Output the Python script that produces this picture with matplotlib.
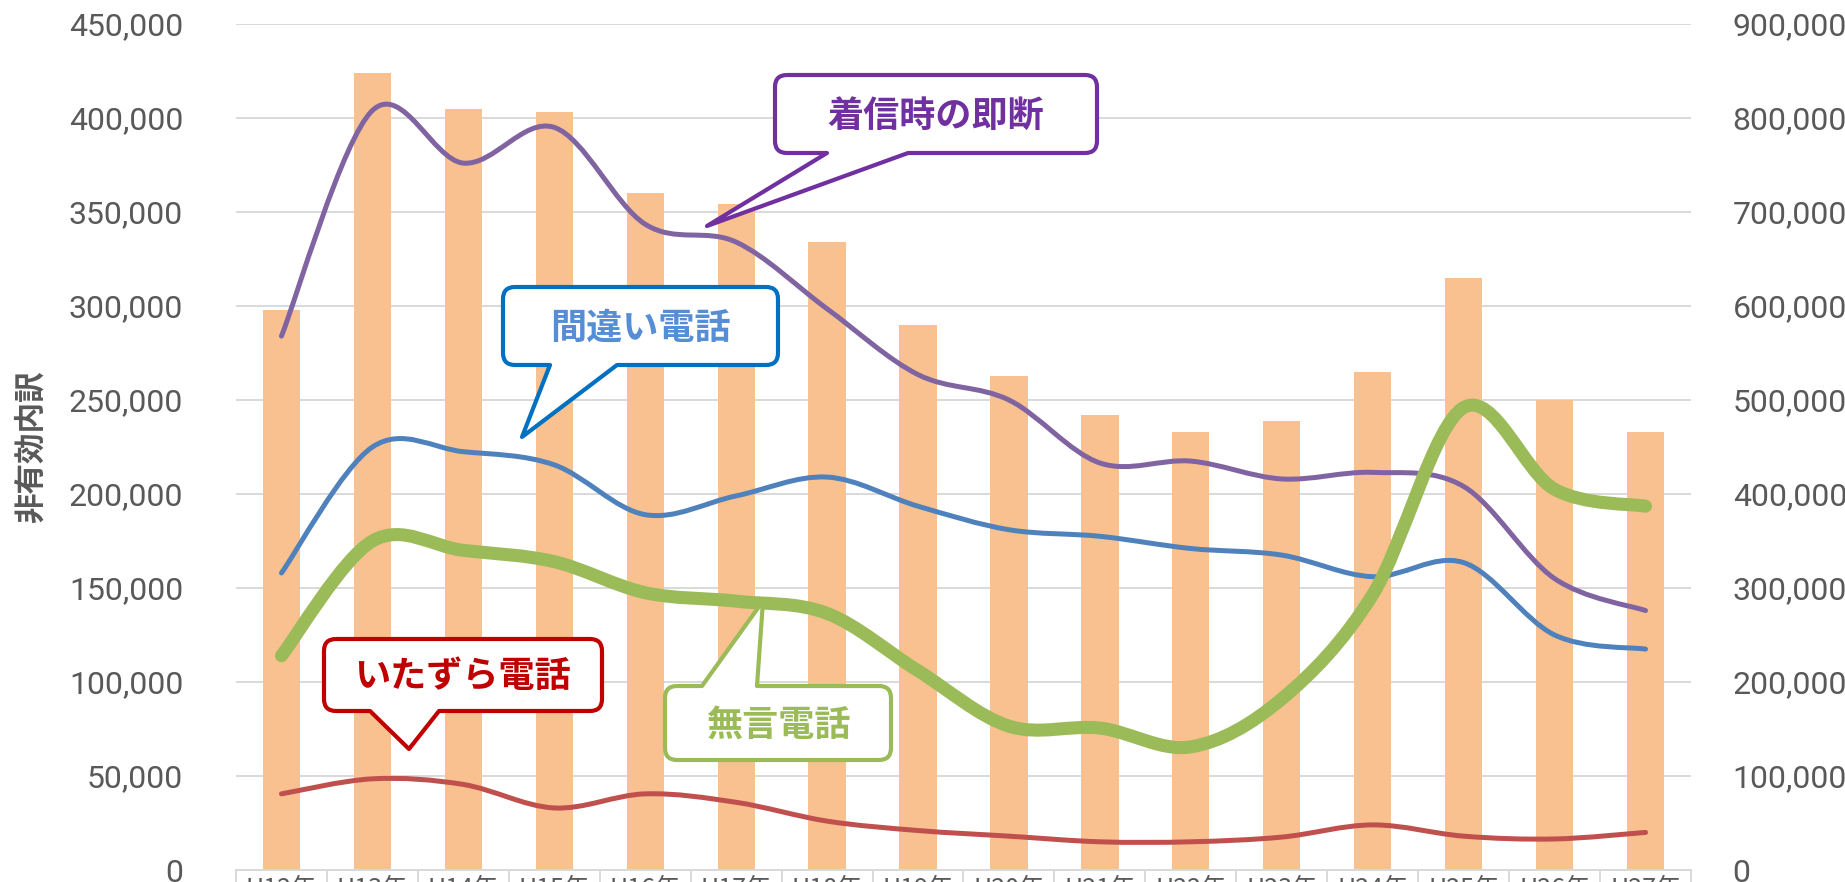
import numpy as np
import matplotlib
matplotlib.use('Agg')
import matplotlib.pyplot as plt
from matplotlib.path import Path
from matplotlib.patches import PathPatch
from matplotlib.transforms import Affine2D
from matplotlib import font_manager

# data
years = ['H12年', 'H13年', 'H14年', 'H15年', 'H16年', 'H17年', 'H18年', 'H19年',
         'H20年', 'H21年', 'H22年', 'H23年', 'H24年', 'H25年', 'H26年', 'H27年']
total = [298000, 424000, 405000, 403000, 360000, 354000, 334000, 290000,
         263000, 242000, 233000, 239000, 265000, 315000, 250000, 233000]
sokudan = [568000, 808000, 752000, 790000, 687000, 668000, 597000, 527000,
           500000, 433000, 435000, 416000, 423000, 408000, 310000, 276000]
machigai = [316000, 450000, 445000, 431000, 378000, 398000, 418000, 387000,
            362000, 355000, 342000, 335000, 312000, 327000, 250000, 235000]
mugon = [228000, 350000, 340000, 328000, 295000, 286000, 273000, 212000,
         153000, 151000, 131000, 182000, 293000, 492000, 405000, 387000]
itazura = [81000, 97000, 91000, 66000, 81000, 72000, 52000, 42000,
           36000, 30000, 30000, 35000, 48000, 36000, 33000, 40000]

names = {f.name for f in font_manager.fontManager.ttflist}
num_font = 'Liberation Sans Narrow' if 'Liberation Sans Narrow' in names else 'Roboto'
jp_font = 'Noto Sans CJK JP'
plt.rcParams['font.family'] = [num_font, jp_font, 'DejaVu Sans']

W, H = 1845, 882
fig = plt.figure(figsize=(W / 100, H / 100), dpi=100)
ax = fig.add_axes([236 / W, 12 / H, (1691 - 236) / W, (870 - 24) / H])
ax2 = ax.twinx()

x = np.arange(len(years))
grey = '#595959'
gridc = '#D9D9D9'

ax.bar(x, total, width=0.41, color='#F9C18F', zorder=2)
ax.set_xlim(-0.5, len(years) - 0.5)
ax.set_ylim(0, 450000)
ax2.set_ylim(0, 900000)
ax.set_yticks(np.arange(0, 450001, 50000))
ax2.set_yticks(np.arange(0, 900001, 100000))
ax.set_yticklabels(['{:,}'.format(v) for v in range(0, 450001, 50000)])
ax2.set_yticklabels(['{:,}'.format(v) for v in range(0, 900001, 100000)])
ax.grid(axis='y', color=gridc, lw=1.4)
ax.set_axisbelow(True)

for a in (ax, ax2):
    for s in ('top', 'left', 'right'):
        a.spines[s].set_visible(False)
    a.spines['bottom'].set_color(gridc)
    a.spines['bottom'].set_linewidth(1.4)
    a.tick_params(axis='y', length=0, labelsize=23, labelcolor=grey)
ax.tick_params(axis='y', pad=38)
ax2.tick_params(axis='y', pad=30)

ax.set_xticks(x)
ax.set_xticklabels(years, family=[jp_font, 'DejaVu Sans'])
ax.set_xticks(np.arange(-0.5, len(years)), minor=True)
ax.tick_params(axis='x', which='major', length=0, labelsize=18, labelcolor=grey, pad=4)
ax.tick_params(axis='x', which='minor', length=25, color=gridc, width=1.4)

ax.set_ylabel('非有効内訳', family=[jp_font, 'DejaVu Sans'], fontsize=22,
              fontweight='bold', color=grey, labelpad=16)


def smooth(xs, ys):
    # Catmull-Rom style bezier through the points, like Excel's smoothed line
    p = np.column_stack([xs, ys]).astype(float)
    q = np.vstack([p[0], p, p[-1]])
    verts = [p[0]]
    codes = [Path.MOVETO]
    for i in range(len(p) - 1):
        c1 = q[i + 1] + (q[i + 2] - q[i]) / 6
        c2 = q[i + 2] - (q[i + 3] - q[i + 1]) / 6
        verts += [c1, c2, q[i + 2]]
        codes += [Path.CURVE4] * 3
    return Path(verts, codes)


series = [
    (itazura, '#C0504D', 3.6),
    (machigai, '#4F81BD', 3.6),
    (sokudan, '#8064A2', 3.6),
    (mugon, '#9BBB59', 9.4),
]
for vals, col, lw in series:
    ax2.add_patch(PathPatch(smooth(x, vals), fill=False, edgecolor=col, lw=lw,
                            capstyle='round', joinstyle='round', zorder=3))

# callouts, laid out in image pixels (y down)
px = Affine2D().scale(1 / W, -1 / H).translate(0, 1) + fig.transFigure


def callout(x0, y0, x1, y1, side, b0, b1, tip, r=12):
    v = [(x0 + r, y0)]
    c = [Path.MOVETO]
    if side == 'top':
        v += [(b0, y0), tip, (b1, y0)]
        c += [Path.LINETO] * 3
    v += [(x1 - r, y0), (x1, y0), (x1, y0 + r), (x1, y1 - r), (x1, y1), (x1 - r, y1)]
    c += [Path.LINETO, Path.CURVE3, Path.CURVE3, Path.LINETO, Path.CURVE3, Path.CURVE3]
    if side == 'bottom':
        v += [(b1, y1), tip, (b0, y1)]
        c += [Path.LINETO] * 3
    v += [(x0 + r, y1), (x0, y1), (x0, y1 - r), (x0, y0 + r), (x0, y0), (x0 + r, y0)]
    c += [Path.LINETO, Path.CURVE3, Path.CURVE3, Path.LINETO, Path.CURVE3, Path.CURVE3]
    return Path(v, c)


callouts = [
    ('着信時の即断', (775, 75, 1097, 153), 'bottom', 827, 908, (707, 226), '#7030A0', '#7030A0'),
    ('間違い電話', (503, 287, 778, 365), 'bottom', 550, 617, (522, 437), '#0070C0', '#558ED5'),
    ('いたずら電話', (324, 639, 602, 711), 'bottom', 370, 439, (409, 749), '#C00000', '#C00000'),
    ('無言電話', (665, 686, 891, 760), 'top', 702, 757, (763, 601), '#9BBB59', '#9BBB59'),
]
for label, (x0, y0, x1, y1), side, b0, b1, tip, ec, tc in callouts:
    fig.patches.append(PathPatch(callout(x0, y0, x1, y1, side, b0, b1, tip),
                                 facecolor='white', edgecolor=ec, lw=3,
                                 joinstyle='round', transform=px, zorder=5))
    fig.text((x0 + x1) / 2, (y0 + y1) / 2 + 2, label, transform=px, ha='center', va='center',
             fontsize=26, fontweight='bold', color=tc, family=[jp_font, 'DejaVu Sans'], zorder=6)

fig.savefig('out.png', dpi=100)
